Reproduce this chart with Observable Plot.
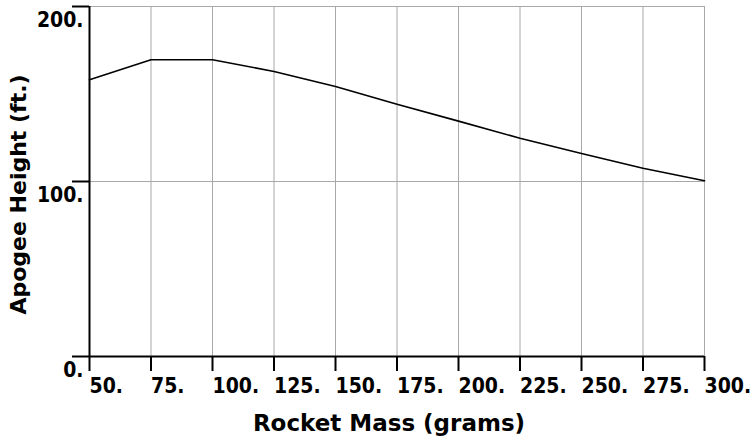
<!DOCTYPE html>
<html>
<head>
<meta charset="utf-8">
<script src="https://cdn.jsdelivr.net/npm/d3@7"></script>
<script src="https://cdn.jsdelivr.net/npm/@observablehq/plot@0.6"></script>
<style>
  html, body { margin: 0; padding: 0; background: #fff; }
  #chart svg { display: block; }
</style>
</head>
<body>
<div id="chart"></div>
<script>
const mass = [50, 75, 100, 125, 150, 175, 200, 225, 250, 275, 300];
const apogee = [158.1, 169.6, 169.6, 162.9, 154.3, 144.2, 134.5, 124.7, 116.0, 107.6, 100.4];
const xTicks = [50, 75, 100, 125, 150, 175, 200, 225, 250, 275, 300];
const yTicks = [0, 100, 200];
const xLabel = "Rocket Mass (grams)";
const yLabel = "Apogee Height (ft.)";

const data = mass.map((m, i) => ({mass: m, apogee: apogee[i]}));
const tickFont = "'DejaVu Sans Condensed', 'DejaVu Sans', sans-serif";
const labelFont = "'DejaVu Sans', Verdana, sans-serif";

const chart = Plot.plot({
  width: 753,
  height: 441,
  marginLeft: 89,
  marginRight: 49,
  marginTop: 6,
  marginBottom: 85,
  style: {background: "#fff", color: "#000", overflow: "visible"},
  x: {domain: [50, 300], axis: null},
  y: {domain: [0, 200], axis: null},
  marks: [
    Plot.gridX(xTicks, {stroke: "#a8a8a8", strokeOpacity: 1}),
    Plot.gridY([100, 200], {stroke: "#a8a8a8", strokeOpacity: 1}),
    // tick marks
    Plot.axisX(xTicks, {tickSize: 15, tickFormat: () => "", label: null, stroke: "#000", strokeWidth: 2}),
    Plot.axisY(yTicks, {tickSize: 17, tickFormat: () => "", label: null, stroke: "#000", strokeWidth: 2}),
    // tick labels
    Plot.axisX(xTicks, {
      tickSize: 0, tickPadding: 22, tickFormat: d => d + ".",
      textAnchor: "start", fontFamily: tickFont, fontWeight: "bold",
      fontSize: 21, label: null
    }),
    Plot.axisY(yTicks, {
      tickSize: 0, tickPadding: 6, tickFormat: d => d + ".",
      dy: 14, fontFamily: tickFont, fontWeight: "bold",
      fontSize: 21, label: null
    }),
    Plot.ruleX([50], {stroke: "#000", strokeWidth: 2}),
    Plot.ruleY([0], {stroke: "#000", strokeWidth: 2}),
    Plot.line(data, {x: "mass", y: "apogee", stroke: "#000", strokeWidth: 1.6}),
    Plot.text([xLabel], {
      text: d => d, frameAnchor: "bottom", dy: 74, dx: -8,
      fontFamily: labelFont, fontWeight: "bold", fontSize: 23, fill: "#000"
    }),
    Plot.text([yLabel], {
      text: d => d, frameAnchor: "left", rotate: -90, dx: -71, dy: 13,
      textAnchor: "middle",
      fontFamily: labelFont, fontWeight: "bold", fontSize: 22, fill: "#000"
    })
  ]
});
document.getElementById("chart").appendChild(chart);
</script>
</body>
</html>
